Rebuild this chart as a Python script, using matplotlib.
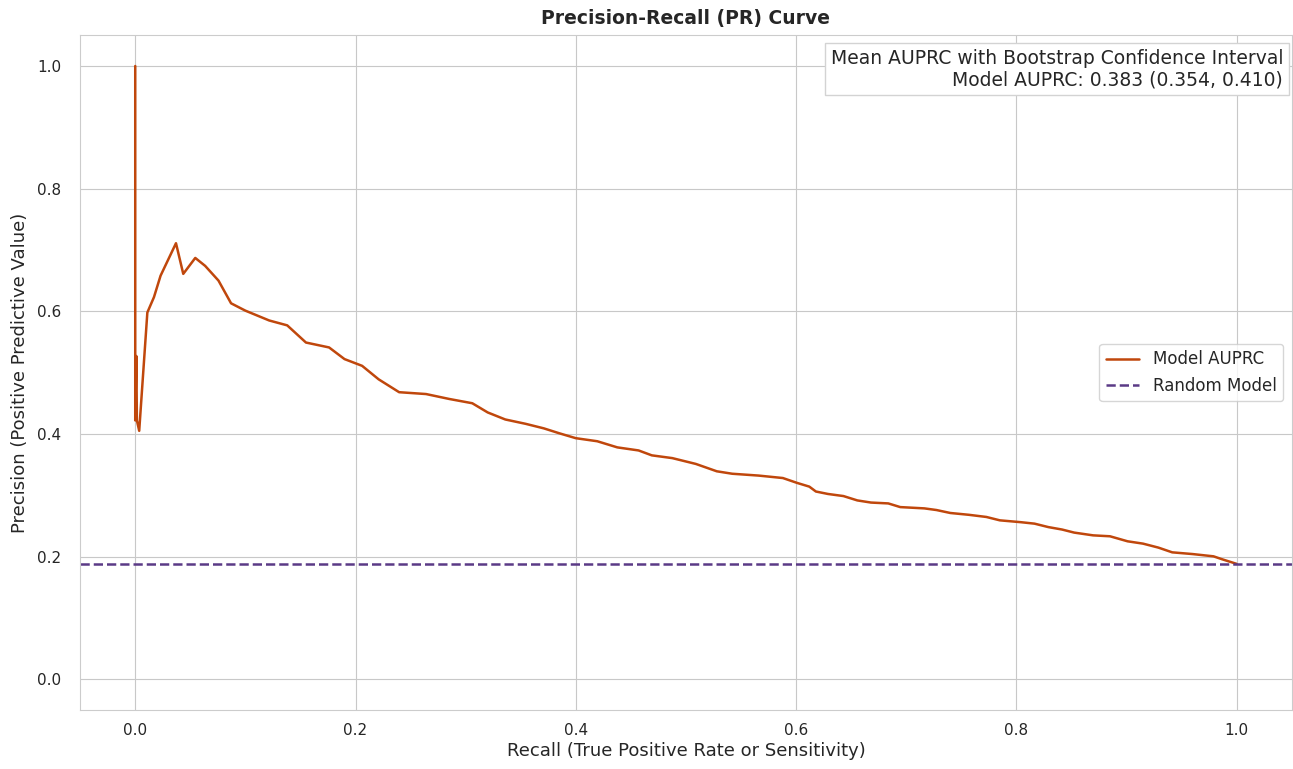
import matplotlib
matplotlib.use("Agg")
import matplotlib.pyplot as plt
import seaborn as sns

# PR curve points
recall = [0.0, 0.0, 0.001, 0.0015, 0.0036, 0.011, 0.017, 0.023, 0.037, 0.0436,
          0.0545, 0.0635, 0.0756, 0.087, 0.100, 0.1216, 0.138, 0.155, 0.176, 0.190,
          0.206, 0.221, 0.2396, 0.264, 0.285, 0.306, 0.320, 0.336, 0.3545, 0.371,
          0.385, 0.400, 0.4195, 0.4377, 0.457, 0.469, 0.4876, 0.509, 0.528, 0.542,
          0.566, 0.588, 0.601, 0.612, 0.618, 0.629, 0.643, 0.6556, 0.668, 0.6837,
          0.6946, 0.7165, 0.7275, 0.740, 0.757, 0.7728, 0.785, 0.804, 0.8165, 0.829,
          0.8415, 0.8525, 0.8697, 0.885, 0.901, 0.915, 0.929, 0.9415, 0.960, 0.979,
          0.987, 1.0]
precision = [1.0, 0.422, 0.527, 0.422, 0.405, 0.598, 0.623, 0.658, 0.711, 0.661,
             0.687, 0.674, 0.650, 0.613, 0.601, 0.585, 0.577, 0.549, 0.541, 0.522,
             0.511, 0.489, 0.468, 0.465, 0.457, 0.450, 0.435, 0.4235, 0.4164, 0.409,
             0.401, 0.393, 0.388, 0.378, 0.373, 0.365, 0.3605, 0.351, 0.339, 0.335,
             0.332, 0.328, 0.320, 0.314, 0.306, 0.302, 0.2986, 0.2915, 0.288, 0.2866,
             0.2806, 0.2785, 0.2758, 0.271, 0.268, 0.2645, 0.259, 0.256, 0.2536, 0.248,
             0.244, 0.239, 0.2345, 0.233, 0.2248, 0.221, 0.2145, 0.2068, 0.204, 0.2003,
             0.1954, 0.188]
baseline = 0.188
auprc_mean = 0.383
auprc_ci = (0.354, 0.410)

sns.set_style("whitegrid")

fig, ax = plt.subplots(figsize=(12.93, 7.69), dpi=100)
fig.subplots_adjust(left=0.062, right=0.999, top=0.954, bottom=0.077)

ax.plot(recall, precision, color="#c0470c", linewidth=1.8, label="Model AUPRC")
ax.axhline(baseline, color="#5b3a86", linestyle="--", linewidth=1.8, label="Random Model")

ax.set_xlim(-0.05, 1.05)
ax.set_ylim(-0.05, 1.05)

ax.set_title("Precision-Recall (PR) Curve", fontsize=13.5, fontweight="bold", pad=8)
ax.set_xlabel("Recall (True Positive Rate or Sensitivity)", fontsize=13, labelpad=3)
ax.set_ylabel("Precision (Positive Predictive Value)", fontsize=13, labelpad=6)
ax.tick_params(labelsize=11)
ax.tick_params(axis="y", pad=10)
ax.tick_params(axis="x", pad=6)
ax.grid(color="#c8c8c8")

ax.legend(loc="center right", fontsize=12)

ax.text(
    0.993, 0.98,
    "Mean AUPRC with Bootstrap Confidence Interval\n"
    f"Model AUPRC: {auprc_mean:.3f} ({auprc_ci[0]:.3f}, {auprc_ci[1]:.3f})",
    transform=ax.transAxes,
    ha="right",
    va="top",
    fontsize=13.5,
    multialignment="right",
    bbox=dict(boxstyle="square,pad=0.3", facecolor="white", edgecolor="lightgray")
)

plt.savefig("out.png")
